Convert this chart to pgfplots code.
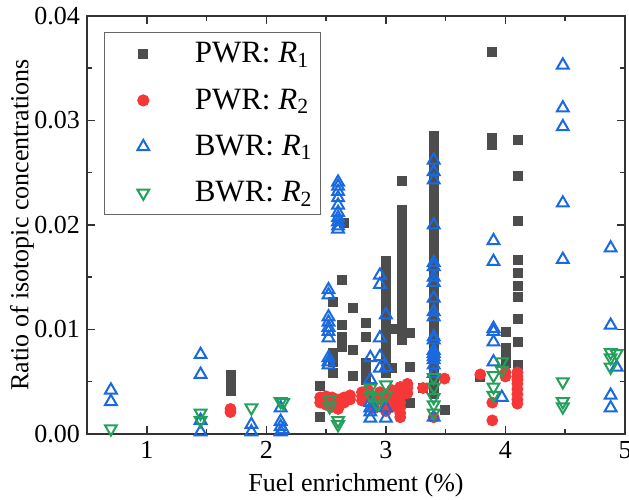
\documentclass[border=0pt]{standalone}
\usepackage{fontspec}
\setmainfont{Liberation Serif}
\usepackage{pgfplots}
\pgfplotsset{compat=1.18}
\definecolor{cgray}{RGB}{77,77,77}
\definecolor{cred}{RGB}{245,55,55}
\definecolor{cblue}{RGB}{25,105,225}
\definecolor{cgreen}{RGB}{35,160,90}
\pgfplotsset{myleg/.style={legend image code/.code={%
  \path[draw=none,fill=none] (0pt,0pt) -- (41pt,0pt);
  \draw plot coordinates {(17.25pt,0pt)};}}}
\begin{document}
\begin{tikzpicture}
\begin{axis}[
  scale only axis, width=269pt, height=209pt,
  xmin=0.5, xmax=5, ymin=0, ymax=0.04,
  xtick={1,2,3,4,5}, minor x tick num=1,
  ytick={0,0.01,0.02,0.03,0.04}, minor y tick num=1,
  tick align=inside, xtick pos=both, ytick pos=both,
  major tick length=4pt, minor tick length=2.5pt,
  axis line style={line width=0.75pt, color=black!80},
  every tick/.style={black!80, line width=0.75pt},
  scaled y ticks=false,
  yticklabel style={/pgf/number format/.cd, fixed, fixed zerofill, precision=2},
  /pgf/number format/assume math mode=true,
  tick label style={font=\rmfamily\fontsize{13}{15}\selectfont},
  label style={font=\rmfamily\fontsize{13}{15}\selectfont},
  xlabel={Fuel enrichment (\%)},
  ylabel={Ratio of isotopic concentrations},
  xlabel style={at={(axis description cs:0.5,-0.122)}, anchor=center},
  ylabel style={at={(axis description cs:-0.121,0.5)}, anchor=center},
  legend style={at={(axis description cs:0.032,0.962)}, anchor=north west,
    font=\rmfamily\fontsize{15.5}{18}\selectfont, draw=black!60, line width=0.6pt,
    row sep=7.5pt, inner xsep=2pt, inner ysep=3pt},
  legend cell align=left,
]
% PWR R1
\addplot[only marks, mark=square*, mark size=2.25pt, color=cgray, myleg] coordinates {
(1.7,0.0057)(1.7,0.0053)(1.7,0.0045)(1.7,0.0041)
(2.45,0.0046)(2.45,0.0016)
(2.56,0.0126)(2.56,0.0078)(2.56,0.0069)(2.56,0.0058)
(2.63,0.0147)(2.63,0.0104)(2.63,0.0093)(2.63,0.0083)(2.65,0.0202)
(2.72,0.0121)(2.72,0.0080)(2.72,0.0056)
(2.83,0.0106)(2.83,0.0093)(2.83,0.0068)(2.83,0.0052)(2.83,0.0060)
(3.0,0.0166)(3.0,0.0160)(3.0,0.0154)(3.0,0.0148)(3.0,0.0142)(3.0,0.0136)(3.0,0.0130)(3.0,0.0124)(3.0,0.0118)(3.0,0.0112)(3.0,0.0106)(3.0,0.0100)(3.0,0.0094)(3.0,0.0088)(3.0,0.0082)(3.0,0.0076)(3.0,0.0070)(3.0,0.0064)(3.0,0.0058)
(3.05,0.0101)(3.05,0.0063)
(3.13,0.0242)(3.13,0.0214)(3.13,0.0208)(3.13,0.0202)(3.13,0.0196)(3.13,0.0190)(3.13,0.0184)(3.13,0.0178)(3.13,0.0172)(3.13,0.0166)(3.13,0.0160)(3.13,0.0154)(3.13,0.0148)(3.13,0.0142)(3.13,0.0136)(3.13,0.0130)(3.13,0.0124)(3.13,0.0118)(3.13,0.0112)(3.13,0.0106)(3.13,0.0100)(3.13,0.0094)(3.13,0.0090)
(3.2,0.0097)(3.2,0.0064)(3.2,0.0030)
(3.31,0.0044)
(3.4,0.0285)(3.4,0.0279)(3.4,0.0273)(3.4,0.0267)(3.4,0.0261)(3.4,0.0255)(3.4,0.0249)(3.4,0.0243)(3.4,0.0237)(3.4,0.0231)(3.4,0.0225)(3.4,0.0221)(3.4,0.0212)(3.4,0.0206)(3.4,0.0200)(3.4,0.0194)(3.4,0.0188)(3.4,0.0182)(3.4,0.0176)(3.4,0.0170)(3.4,0.0164)(3.4,0.0158)(3.4,0.0152)(3.4,0.0146)(3.4,0.0140)(3.4,0.0134)(3.4,0.0128)(3.4,0.0122)(3.4,0.0116)(3.4,0.0110)(3.4,0.0104)(3.4,0.0098)(3.4,0.0092)(3.4,0.0086)(3.4,0.0080)(3.4,0.0074)(3.4,0.0068)(3.4,0.0062)(3.4,0.0056)(3.4,0.0050)(3.4,0.0044)(3.4,0.0038)
(3.49,0.0023)
(3.79,0.0055)
(3.89,0.0366)(3.89,0.0283)(3.89,0.0277)
(4.0,0.0098)(4.0,0.0082)(4.0,0.0076)(4.0,0.0068)
(4.1,0.0281)(4.1,0.0247)(4.1,0.0204)(4.1,0.0167)(4.1,0.0154)(4.1,0.0142)(4.1,0.0131)(4.1,0.0110)(4.1,0.0088)(4.1,0.0066)
};
\addlegendentry{PWR: \textit{R}\textsubscript{1}}
% PWR R2
\addplot[only marks, mark=*, mark size=2.75pt, color=cred, myleg] coordinates {
(1.7,0.0021)(1.7,0.0024)
(2.45,0.0035)(2.45,0.0030)
(2.5,0.0033)(2.5,0.0028)(2.5,0.0036)
(2.55,0.0031)(2.55,0.0026)(2.55,0.0035)
(2.6,0.0024)(2.6,0.0029)(2.6,0.0033)
(2.65,0.0030)(2.65,0.0035)
(2.7,0.0037)(2.7,0.0033)
(2.8,0.0040)(2.8,0.0036)(2.8,0.0032)
(2.85,0.0038)(2.85,0.0042)
(2.9,0.0035)(2.9,0.0030)(2.9,0.0025)
(2.95,0.0040)(2.95,0.0033)
(3.0,0.0038)(3.0,0.0032)(3.0,0.0027)(3.0,0.0022)
(3.05,0.0042)(3.05,0.0035)(3.05,0.0030)(3.05,0.0026)
(3.12,0.0045)(3.12,0.0040)(3.12,0.0035)(3.12,0.0030)(3.12,0.0025)(3.12,0.0020)(3.12,0.0016)
(3.18,0.0048)(3.18,0.0044)(3.18,0.0039)
(3.31,0.0044)
(3.4,0.0016)
(3.49,0.0053)
(3.79,0.0057)
(3.89,0.0030)(3.89,0.0013)
(4.0,0.0059)(4.0,0.0055)
(4.1,0.0059)(4.1,0.0055)(4.1,0.0052)(4.1,0.0048)(4.1,0.0043)(4.1,0.0038)(4.1,0.0033)(4.1,0.0029)
};
\addlegendentry{PWR: \textit{R}\textsubscript{2}}
% BWR R1
\addplot[only marks, mark=triangle, mark size=3.4pt, color=cblue, mark options={line width=1pt}, myleg] coordinates {
(0.7,0.0042)(0.7,0.0031)
(1.45,0.0076)(1.45,0.0057)(1.45,0.0013)(1.45,0.0002)
(1.875,0.0009)(1.875,0.0002)
(2.12,0.0025)(2.12,0.0012)(2.12,0.0007)(2.12,0.0002)(2.14,0.0004)
(2.52,0.0138)(2.52,0.0133)(2.52,0.0112)(2.52,0.0107)(2.52,0.0102)(2.52,0.0098)(2.52,0.0092)(2.52,0.0073)(2.52,0.0066)(2.52,0.0069)
(2.6,0.0241)(2.6,0.0237)(2.6,0.0232)(2.6,0.0226)(2.6,0.0219)(2.6,0.0212)(2.6,0.0207)(2.6,0.0203)(2.6,0.0199)(2.6,0.0196)
(2.87,0.0073)(2.87,0.0052)(2.87,0.0030)(2.87,0.0021)(2.87,0.0015)(2.87,0.0025)
(2.95,0.0152)(2.95,0.0143)(2.95,0.0092)(2.95,0.0074)(2.95,0.0063)
(3.0,0.0114)(3.0,0.0064)(3.0,0.0025)(3.0,0.0015)
(3.4,0.0262)(3.4,0.0251)(3.4,0.0243)(3.4,0.0200)(3.4,0.0164)(3.4,0.0160)(3.4,0.0150)(3.4,0.0145)(3.4,0.0130)(3.4,0.0117)(3.4,0.0112)(3.4,0.0093)(3.4,0.0090)(3.4,0.0080)(3.4,0.0077)(3.4,0.0074)(3.4,0.0071)(3.4,0.0066)(3.4,0.0058)(3.4,0.0016)
(3.9,0.0185)(3.9,0.0165)(3.9,0.0101)(3.9,0.0098)(3.9,0.0088)(3.9,0.0069)
(3.97,0.0035)
(4.48,0.0353)(4.48,0.0312)(4.48,0.0294)(4.48,0.0221)(4.48,0.0167)
(4.88,0.0178)(4.88,0.0104)(4.88,0.0037)(4.88,0.0025)
(4.93,0.0064)
};
\addlegendentry{BWR: \textit{R}\textsubscript{1}}
% BWR R2
\addplot[only marks, mark=triangle, mark size=3.4pt, color=cgreen, mark options={rotate=180, line width=1pt}, myleg] coordinates {
(0.7,0.0005)
(1.45,0.0020)(1.45,0.0013)
(1.875,0.0025)
(2.12,0.0031)(2.14,0.0030)
(2.53,0.0033)(2.53,0.0026)
(2.6,0.0013)(2.6,0.0009)
(2.87,0.0044)(2.87,0.0037)
(2.93,0.0035)(2.93,0.0028)
(3.0,0.0047)(3.0,0.0037)
(3.4,0.0054)(3.4,0.0045)(3.4,0.0035)(3.4,0.0028)(3.4,0.0020)
(3.9,0.0056)(3.9,0.0045)(3.9,0.0037)
(3.97,0.0069)(3.97,0.0061)
(4.48,0.0050)(4.48,0.0031)(4.48,0.0026)
(4.88,0.0078)(4.88,0.0073)(4.88,0.0064)
(4.93,0.0077)
};
\addlegendentry{BWR: \textit{R}\textsubscript{2}}
\end{axis}
\pgfresetboundingbox
\path ([shift={(-43.5pt,-33pt)}]current axis.south west) rectangle ([shift={(2pt,8pt)}]current axis.north east);
\end{tikzpicture}
\end{document}
